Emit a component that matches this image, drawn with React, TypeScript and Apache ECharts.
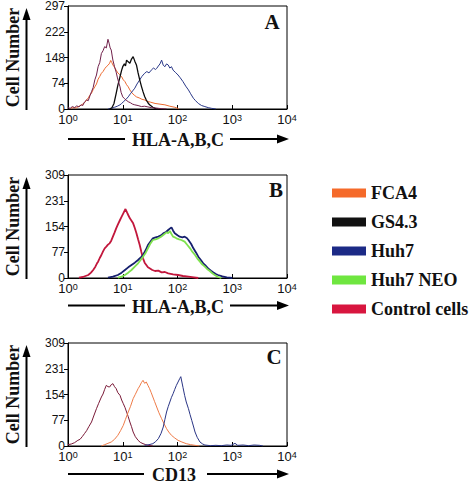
import React, { useEffect, useRef } from "react";
import * as echarts from "echarts";

// Histogram channels: [log10 fluorescence, cell count]
const A_CONTROL: [number, number][] = [
  [0, 4], [0.04, 2], [0.08, 7], [0.12, 4], [0.16, 9], [0.2, 6], [0.24, 12], [0.27, 10], [0.3, 20],
  [0.34, 26], [0.37, 24], [0.4, 38], [0.43, 50], [0.46, 62], [0.49, 84], [0.52, 98], [0.55, 122],
  [0.58, 134], [0.61, 160], [0.64, 168], [0.67, 180], [0.7, 176], [0.73, 201], [0.75, 190], [0.77, 176],
  [0.79, 170], [0.81, 150], [0.82, 141], [0.85, 122], [0.88, 106], [0.9, 92], [0.92, 80], [0.95, 64],
  [0.97, 48], [1.0, 35], [1.03, 30], [1.06, 26], [1.1, 21], [1.14, 18], [1.18, 14], [1.22, 12],
  [1.28, 10], [1.34, 7], [1.4, 8], [1.46, 6], [1.52, 4], [1.6, 3], [1.7, 1], [1.8, 0],
];
const A_FCA4: [number, number][] = [
  [0.05, 2], [0.1, 4], [0.15, 3], [0.2, 8], [0.25, 12], [0.3, 18], [0.34, 26], [0.37, 32], [0.4, 40],
  [0.43, 46], [0.46, 56], [0.49, 64], [0.52, 72], [0.55, 86], [0.58, 94], [0.61, 103], [0.64, 108],
  [0.67, 116], [0.7, 122], [0.73, 126], [0.76, 132], [0.78, 140], [0.8, 134], [0.82, 127], [0.85, 120],
  [0.88, 112], [0.91, 104], [0.94, 100], [0.98, 93], [1.01, 84], [1.04, 79], [1.07, 70], [1.1, 64],
  [1.13, 55], [1.17, 46], [1.21, 40], [1.25, 35], [1.3, 32], [1.35, 28], [1.4, 26], [1.45, 22],
  [1.5, 20], [1.59, 16], [1.68, 14], [1.77, 12], [1.86, 8], [1.95, 5], [2.02, 1],
];
const A_GS43: [number, number][] = [
  [0.76, 0], [0.8, 3], [0.84, 16], [0.88, 45], [0.91, 68], [0.95, 93], [0.98, 112], [1.0, 122],
  [1.03, 130], [1.05, 124], [1.07, 141], [1.1, 136], [1.13, 132], [1.16, 144], [1.19, 151], [1.22, 138],
  [1.25, 127], [1.28, 104], [1.31, 84], [1.34, 66], [1.37, 50], [1.4, 36], [1.43, 26], [1.46, 18],
  [1.49, 12], [1.55, 5], [1.6, 1], [1.65, 0],
];
const A_HUH7: [number, number][] = [
  [0.73, 0], [0.8, 2], [0.85, 5], [0.9, 8], [0.95, 12], [0.98, 16], [1.02, 22], [1.06, 28], [1.1, 35],
  [1.14, 44], [1.18, 52], [1.22, 60], [1.26, 72], [1.31, 84], [1.35, 94], [1.4, 103], [1.44, 108],
  [1.48, 104], [1.52, 112], [1.56, 118], [1.6, 114], [1.62, 117], [1.65, 124], [1.68, 130], [1.71, 141],
  [1.74, 126], [1.77, 122], [1.8, 130], [1.83, 127], [1.86, 118], [1.89, 122], [1.92, 112], [1.96, 106],
  [2.01, 98], [2.05, 90], [2.1, 79], [2.15, 66], [2.2, 55], [2.24, 44], [2.29, 31], [2.33, 24],
  [2.38, 16], [2.44, 10], [2.5, 7], [2.56, 4], [2.62, 2], [2.7, 0],
];

const B_CONTROL: [number, number][] = [
  [0.2, 1], [0.27, 3], [0.32, 6], [0.37, 9], [0.42, 16], [0.46, 24], [0.5, 34], [0.53, 44], [0.55, 49],
  [0.58, 60], [0.61, 69], [0.64, 80], [0.67, 89], [0.7, 94], [0.73, 100], [0.76, 104], [0.79, 112],
  [0.82, 124], [0.85, 136], [0.88, 149], [0.91, 160], [0.95, 174], [0.98, 184], [1.01, 194], [1.05, 207],
  [1.08, 196], [1.1, 189], [1.13, 179], [1.16, 172], [1.19, 164], [1.22, 150], [1.25, 134], [1.28, 116],
  [1.31, 99], [1.34, 78], [1.37, 59], [1.4, 46], [1.43, 39], [1.46, 32], [1.49, 29], [1.54, 24],
  [1.59, 21], [1.65, 22], [1.71, 17], [1.77, 18], [1.83, 14], [1.92, 11], [2.01, 9], [2.1, 6],
  [2.2, 4], [2.3, 2], [2.38, 0],
];
const B_HUH7: [number, number][] = [
  [0.73, 1], [0.82, 4], [0.91, 9], [0.98, 16], [1.04, 24], [1.1, 32], [1.16, 39], [1.22, 46], [1.28, 54],
  [1.33, 62], [1.37, 69], [1.42, 84], [1.46, 99], [1.5, 108], [1.55, 119], [1.6, 122], [1.65, 124],
  [1.7, 128], [1.74, 134], [1.79, 138], [1.83, 144], [1.86, 148], [1.89, 152], [1.92, 142], [1.95, 134],
  [2.0, 128], [2.04, 124], [2.09, 122], [2.13, 124], [2.17, 120], [2.2, 114], [2.25, 102], [2.29, 89],
  [2.34, 76], [2.38, 64], [2.43, 53], [2.47, 44], [2.52, 36], [2.56, 29], [2.61, 22], [2.65, 17],
  [2.7, 12], [2.74, 9], [2.82, 5], [2.9, 2], [3.0, 0],
];
const B_NEO: [number, number][] = [
  [0.91, 1], [0.98, 4], [1.04, 9], [1.1, 16], [1.16, 24], [1.22, 34], [1.28, 44], [1.33, 55], [1.37, 64],
  [1.42, 76], [1.46, 89], [1.5, 102], [1.55, 114], [1.6, 116], [1.65, 119], [1.7, 124], [1.74, 129],
  [1.8, 137], [1.83, 134], [1.86, 141], [1.89, 132], [1.92, 124], [1.95, 122], [1.98, 119], [2.03, 116],
  [2.07, 114], [2.13, 109], [2.18, 99], [2.23, 89], [2.27, 79], [2.32, 69], [2.36, 59], [2.41, 49],
  [2.45, 41], [2.5, 34], [2.54, 27], [2.59, 21], [2.63, 15], [2.68, 9], [2.74, 3], [2.8, 0],
];

const C_CONTROL: [number, number][] = [
  [0, 4], [0.06, 6], [0.12, 10], [0.18, 17], [0.22, 20], [0.26, 28], [0.3, 37], [0.34, 46], [0.38, 58],
  [0.43, 72], [0.47, 90], [0.52, 112], [0.56, 128], [0.61, 147], [0.64, 156], [0.67, 170], [0.7, 182],
  [0.73, 178], [0.76, 177], [0.79, 184], [0.82, 187], [0.85, 178], [0.88, 172], [0.91, 160], [0.95, 152],
  [0.98, 138], [1.01, 127], [1.04, 116], [1.07, 102], [1.1, 88], [1.13, 72], [1.16, 58], [1.19, 42],
  [1.23, 28], [1.28, 17], [1.32, 11], [1.37, 7], [1.42, 4], [1.46, 2], [1.55, 0],
];
const C_FCA4: [number, number][] = [
  [0.61, 0], [0.67, 4], [0.73, 8], [0.79, 12], [0.85, 20], [0.91, 32], [0.96, 46], [1.01, 62], [1.05, 80],
  [1.1, 102], [1.14, 118], [1.19, 142], [1.23, 155], [1.28, 172], [1.31, 180], [1.34, 190], [1.37, 197],
  [1.4, 188], [1.43, 192], [1.46, 182], [1.49, 172], [1.52, 160], [1.55, 147], [1.58, 134], [1.62, 117],
  [1.66, 100], [1.71, 82], [1.75, 68], [1.8, 52], [1.84, 42], [1.89, 32], [1.95, 24], [2.01, 17],
  [2.08, 12], [2.16, 7], [2.24, 4], [2.32, 2], [2.4, 0],
];
const C_HUH7: [number, number][] = [
  [1.4, 2], [1.48, 4], [1.55, 7], [1.6, 13], [1.65, 22], [1.7, 38], [1.74, 57], [1.77, 80], [1.8, 102],
  [1.83, 118], [1.86, 132], [1.89, 146], [1.92, 157], [1.95, 170], [1.98, 182], [2.01, 192], [2.04, 202],
  [2.06, 208], [2.08, 192], [2.1, 176], [2.13, 152], [2.16, 132], [2.2, 112], [2.23, 94], [2.26, 77],
  [2.29, 60], [2.32, 42], [2.36, 26], [2.41, 12], [2.46, 6], [2.5, 3], [2.6, 1], [2.7, 2], [2.8, 1],
  [2.9, 3], [2.98, 2], [3.05, 8], [3.1, 2], [3.2, 3], [3.3, 1], [3.4, 3], [3.5, 2], [3.56, 0],
];

const PANEL_LETTERS = ["A", "B", "C"];
const X_TITLES = ["HLA-A,B,C", "HLA-A,B,C", "CD13"];
const Y_MAX = [297, 309, 309];
const DECADES = [0, 4];
const LEGEND_NAMES = ["FCA4", "GS4.3", "Huh7", "Huh7 NEO", "Control cells"];
const LEGEND_COLORS = ["#f56a2a", "#111111", "#1c2a86", "#6fe640", "#d8163f"];

const SERIF = "Liberation Serif, serif";
const SANS = "Liberation Sans, Arial, sans-serif";

export default function App() {
  const ref = useRef<HTMLDivElement>(null);
  useEffect(() => {
    if (!ref.current) return;
    const chart = echarts.init(ref.current, null, { renderer: "svg" });
    const tops = [6, 175, 343];
    const h = 103;
    const left = 68;
    const w = 219;

    const grids = tops.map((t) => ({
      left, top: t, width: w, height: h, show: true, borderColor: "#000", borderWidth: 1,
    }));
    const xAxes = tops.map((_, i) => ({
      type: "value", gridIndex: i, min: DECADES[0], max: DECADES[1], interval: 1,
      axisLine: { lineStyle: { color: "#000", width: 1 } },
      axisTick: { inside: true, length: 4, lineStyle: { color: "#000" } },
      splitLine: { show: false },
      axisLabel: {
        margin: 4, color: "#111",
        formatter: (v: number) => `{b|10}{s|${v}}`,
        rich: {
          b: { fontSize: 13, fontFamily: SANS, color: "#111" },
          s: { fontSize: 9, fontFamily: SANS, color: "#111", verticalAlign: "top", lineHeight: 10 },
        },
      },
    }));
    const yAxes = tops.map((_, i) => ({
      type: "value", gridIndex: i, min: 0, max: Y_MAX[i], interval: Y_MAX[i] / 4,
      axisLine: { show: true, lineStyle: { color: "#000", width: 1 } },
      axisTick: { show: true, inside: false, length: 4, lineStyle: { color: "#000" } },
      splitLine: { show: false },
      axisLabel: {
        margin: 3, fontSize: 12, fontFamily: SANS, color: "#111", padding: [6, 0, 0, 0],
        formatter: (v: number) => String(Math.floor(v + 1e-6)),
      },
    }));

    const line = (name: string, data: [number, number][], idx: number, color: string, width = 1, z = 2) => ({
      type: "line", name, data, xAxisIndex: idx, yAxisIndex: idx, showSymbol: false, symbol: "none",
      smooth: false, lineStyle: { color, width }, itemStyle: { color }, z,
    });

    const series = [
      line("FCA4", A_FCA4, 0, "#ec6a30"),
      line("Huh7", A_HUH7, 0, "#2a3888"),
      line("GS4.3", A_GS43, 0, "#0b0b0b", 1.3),
      line("Control cells", A_CONTROL, 0, "#70204a"),
      line("Control cells", B_CONTROL, 1, "#c2173c", 1.8),
      line("Huh7", B_HUH7, 1, "#16206e", 1.8),
      line("Huh7 NEO", B_NEO, 1, "#7fe24e", 1.8),
      line("Control cells", C_CONTROL, 2, "#7a1a38"),
      line("FCA4", C_FCA4, 2, "#ee7b48"),
      line("Huh7", C_HUH7, 2, "#2a3585"),
    ];

    const letterPos = [[272, 22], [276, 190], [274, 357]];
    const xTitleY = [140, 306.5, 475];
    const xTitleX = [178, 178, 174];
    const xLeftEnd = [125, 125, 144];
    const xRightStart = [230, 230, 207];

    const graphic: any[] = [];
    tops.forEach((t, i) => {
      const bottom = t + h;
      graphic.push({
        type: "text", x: letterPos[i][0], y: letterPos[i][1],
        style: { text: PANEL_LETTERS[i], fontFamily: SERIF, fontWeight: "bold", fontSize: 21, fill: "#111", align: "center", verticalAlign: "middle" },
      });
      graphic.push({
        type: "text", x: 13, y: t + h / 2, rotation: Math.PI / 2,
        style: { text: "Cell Number", fontFamily: SERIF, fontWeight: "bold", fontSize: 18, fill: "#111", align: "center", verticalAlign: "middle" },
      });
      graphic.push({
        type: "line", shape: { x1: 26.5, y1: bottom + 1, x2: 26.5, y2: t + 12 },
        style: { stroke: "#000", lineWidth: 2 },
      });
      graphic.push({
        type: "polygon", shape: { points: [[26.5, t + 2], [22.5, t + 14], [30.5, t + 14]] },
        style: { fill: "#000" },
      });
      const ty = xTitleY[i];
      graphic.push({
        type: "text", x: xTitleX[i], y: ty,
        style: { text: X_TITLES[i], fontFamily: SERIF, fontWeight: "bold", fontSize: 18, fill: "#111", align: "center", verticalAlign: "middle" },
      });
      graphic.push({
        type: "line", shape: { x1: 68, y1: ty - 1, x2: xLeftEnd[i], y2: ty - 1 },
        style: { stroke: "#000", lineWidth: 2 },
      });
      graphic.push({
        type: "line", shape: { x1: xRightStart[i], y1: ty - 1, x2: 280, y2: ty - 1 },
        style: { stroke: "#000", lineWidth: 2 },
      });
      graphic.push({
        type: "polygon", shape: { points: [[289, ty - 1], [277, ty - 5.5], [277, ty + 3.5]] },
        style: { fill: "#000" },
      });
    });

    chart.setOption({
      animation: false,
      backgroundColor: "#fff",
      grid: grids,
      xAxis: xAxes,
      yAxis: yAxes,
      series,
      legend: {
        orient: "vertical", left: 332, top: 184, padding: 0, itemWidth: 34, itemHeight: 9, itemGap: 11,
        icon: "rect", selectedMode: false,
        textStyle: { fontFamily: SERIF, fontWeight: "bold", fontSize: 18, color: "#111", lineHeight: 18 },
        data: LEGEND_NAMES.map((n, i) => ({ name: n, itemStyle: { color: LEGEND_COLORS[i] } })),
      },
      graphic,
    });
    return () => chart.dispose();
  }, []);
  return (
    <div
      ref={ref}
      style={{ position: "fixed", left: 0, top: 0, width: 474, height: 487, background: "#fff" }}
    />
  );
}
